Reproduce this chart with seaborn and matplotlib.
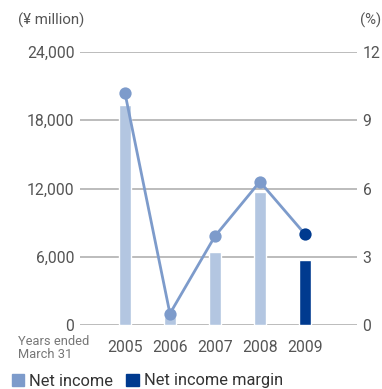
import matplotlib
matplotlib.use("Agg")
import matplotlib.pyplot as plt
import seaborn as sns
import pandas as pd
from matplotlib.patches import Patch

sns.set_theme(style="white")
plt.rcParams["font.family"] = ["Roboto", "DejaVu Sans"]

years = ["2005", "2006", "2007", "2008", "2009"]
net_income = [19300, 700, 6400, 11700, 5700]          # ¥ million
net_income_margin = [10.2, 0.5, 3.9, 6.3, 4.0]         # %
left_ticks = [0, 6000, 12000, 18000, 24000]
right_ticks = [0, 3, 6, 9, 12]

LIGHT = "#b3c6e1"
MID = "#7d9bcb"
DARK = "#003a8f"
TEXT = "#555555"
GRID = "#aaaaaa"

df = pd.DataFrame({"year": years, "income": net_income, "margin": net_income_margin})
bar_colors = [LIGHT] * (len(years) - 1) + [DARK]

fig = plt.figure(figsize=(3.82, 3.89), dpi=100)
ax = fig.add_axes([80 / 382, 1 - 325 / 389, 277 / 382, (325 - 52) / 389])

sns.barplot(data=df, x="year", y="income", hue="year", palette=bar_colors,
            width=0.27, legend=False, ax=ax, saturation=1)
ax.set_ylim(0, 24000)
ax.set_xlim(-1.0, 5.16)
ax.set_yticks(left_ticks)
ax.set_yticklabels([f"{v:,}" for v in left_ticks])
for y in left_ticks:
    ax.axhline(y, color=GRID, lw=1.1, zorder=0)
ax.set_xlabel("")
ax.set_ylabel("")
for s in ax.spines.values():
    s.set_visible(False)
ax.tick_params(axis="y", length=0, pad=4, labelsize=11.3, labelcolor=TEXT)
ax.tick_params(axis="x", length=0, pad=11, labelsize=11.3, labelcolor=TEXT)

ax2 = ax.twinx()
ax2.set_ylim(0, 12)
ax2.set_yticks(right_ticks)
for s in ax2.spines.values():
    s.set_visible(False)
ax2.tick_params(axis="y", length=0, pad=4, labelsize=11.3, labelcolor=TEXT)
sns.lineplot(x=list(range(len(years))), y=net_income_margin, color=MID, lw=2,
             ax=ax2, zorder=3)
ax2.scatter(range(len(years) - 1), net_income_margin[:-1], s=78, color=MID, zorder=4,
            linewidths=0)
ax2.scatter([len(years) - 1], net_income_margin[-1:], s=78, color=DARK, zorder=4,
            linewidths=0)
ax2.set_xlim(-1.0, 5.16)

fig.text(18 / 382, 1 - 20 / 389, "(¥ million)", fontsize=10.8, color=TEXT, va="center")
fig.text(381 / 382, 1 - 20 / 389, "(%)", fontsize=10.8, color=TEXT, va="center", ha="right")
fig.text(18 / 382, 1 - 348 / 389, "Years ended\nMarch 31", fontsize=9.3, color="#777777",
         va="center", linespacing=1.05)

handles = [Patch(color=MID, label="Net income"), Patch(color=DARK, label="Net income margin")]
fig.legend(handles=handles, loc="center left", bbox_to_anchor=(12 / 382, 1 - 381 / 389), ncol=2,
           frameon=False, fontsize=11.8, handlelength=0.75, handleheight=0.75,
           handletextpad=0.3, columnspacing=0.8, labelcolor="#333333",
           borderpad=0, borderaxespad=0)

fig.savefig("out.png", dpi=100)
